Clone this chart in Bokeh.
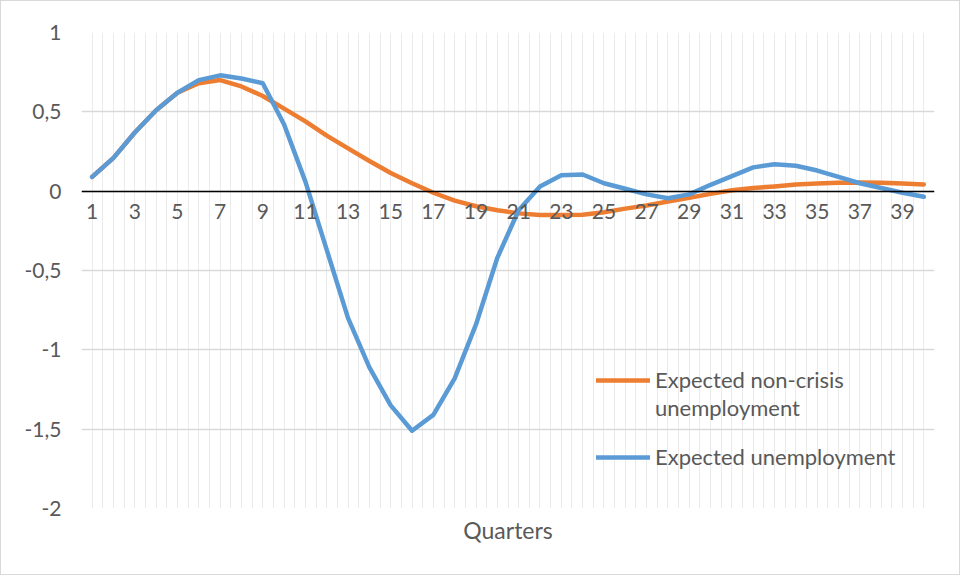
import numpy as np
from bokeh.plotting import figure
from bokeh.models import FixedTicker, Range1d, Legend, LegendItem, Title
from bokeh.embed import file_html
from bokeh.resources import INLINE

quarters = list(range(1, 41))
expected_unemployment = [
    0.09, 0.21, 0.37, 0.51, 0.62, 0.70, 0.73, 0.71, 0.68, 0.42,
    0.06, -0.37, -0.80, -1.11, -1.35, -1.51, -1.41, -1.18, -0.84, -0.42,
    -0.12, 0.03, 0.10, 0.105, 0.05, 0.015, -0.02, -0.045, -0.02, 0.04,
    0.095, 0.15, 0.17, 0.16, 0.13, 0.09, 0.05, 0.02, -0.01, -0.035,
]
expected_non_crisis = [
    0.09, 0.21, 0.37, 0.51, 0.62, 0.68, 0.70, 0.66, 0.60, 0.52,
    0.44, 0.35, 0.27, 0.19, 0.115, 0.05, -0.01, -0.06, -0.095, -0.12,
    -0.14, -0.15, -0.15, -0.148, -0.133, -0.11, -0.09, -0.065, -0.042, -0.017,
    0.006, 0.02, 0.03, 0.042, 0.049, 0.053, 0.055, 0.053, 0.049, 0.042,
]
x_tick_labels = list(range(1, 41, 2))
y_ticks = [1, 0.5, 0, -0.5, -1, -1.5, -2]
y_tick_labels = ["1", "0,5", "0", "-0,5", "-1", "-1,5", "-2"]
legend_labels = ["Expected non-crisis", "unemployment", "Expected unemployment"]

FONT = "Lato"
TXT = "#595959"
ORANGE = "#ED7D31"
BLUE = "#5B9BD5"

p = figure(width=960, height=575, output_backend="svg", toolbar_location=None,
           x_range=Range1d(0.5, 40.5), y_range=Range1d(-2, 1),
           min_border_left=80, min_border_right=27, min_border_top=31, min_border_bottom=68)
p.styles = {"border": "1px solid #d9d9d9"}
p.outline_line_color = None
p.background_fill_color = "white"

# grids
p.xgrid.ticker = FixedTicker(ticks=list(np.arange(0.5, 40.51, 0.5)))
p.xgrid.grid_line_color = "#ebebeb"
p.xgrid.grid_line_width = 1
p.ygrid.ticker = FixedTicker(ticks=y_ticks)
p.ygrid.grid_line_color = "#d9d9d9"
p.ygrid.grid_line_width = 1.5

# x axis crossing at 0
xa = p.xaxis[0]
xa.fixed_location = 0
xa.ticker = FixedTicker(ticks=x_tick_labels)
xa.axis_line_color = "black"
xa.axis_line_width = 1.5
xa.major_tick_line_color = None
xa.minor_tick_line_color = None
xa.major_label_text_font = FONT
xa.major_label_text_font_size = "21px"
xa.major_label_text_color = TXT
xa.major_label_standoff = 7

ya = p.yaxis[0]
ya.ticker = FixedTicker(ticks=y_ticks)
ya.major_label_overrides = {t: l for t, l in zip(y_ticks, y_tick_labels)}
ya.axis_line_color = None
ya.major_tick_line_color = None
ya.minor_tick_line_color = None
ya.major_tick_in = 0
ya.major_tick_out = 0
ya.major_label_text_font = FONT
ya.major_label_text_font_size = "21px"
ya.major_label_text_color = TXT
ya.major_label_standoff = 20

r_orange = p.line(quarters, expected_non_crisis, line_color=ORANGE, line_width=4.5,
                  line_join="round", line_cap="round")
r_blue = p.line(quarters, expected_unemployment, line_color=BLUE, line_width=4.5,
                line_join="round", line_cap="round")
# empty renderer used only as a blank legend swatch for the wrapped label line
r_blank = p.line([], [], line_alpha=0)


def style_legend(lg):
    lg.background_fill_alpha = 0
    lg.border_line_color = None
    lg.label_text_font = FONT
    lg.label_text_font_size = "22px"
    lg.label_text_color = TXT
    lg.glyph_width = 54
    lg.label_standoff = 5
    lg.spacing = 1
    lg.padding = 0
    lg.margin = 0


legend_a = Legend(items=[
    LegendItem(label=legend_labels[0], renderers=[r_orange]),
    LegendItem(label=legend_labels[1], renderers=[r_blank]),
], location=(515, 87))
style_legend(legend_a)
p.add_layout(legend_a, "center")

legend_b = Legend(items=[
    LegendItem(label=legend_labels[2], renderers=[r_blue]),
], location=(515, 38))
style_legend(legend_b)
p.add_layout(legend_b, "center")

t = Title(text="Quarters", align="center", text_font=FONT, text_font_size="23px",
          text_font_style="normal", text_color=TXT)
p.add_layout(t, "below")

open("out.html", "w").write(file_html(p, INLINE))
